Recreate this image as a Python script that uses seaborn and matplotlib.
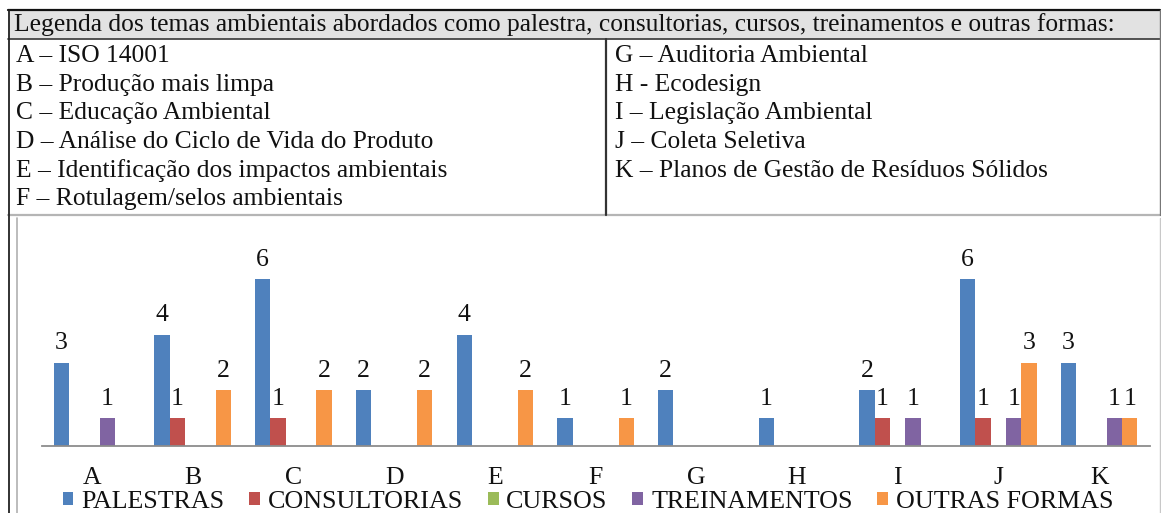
import matplotlib
matplotlib.use("Agg")
import matplotlib.pyplot as plt
import matplotlib.patches as mpatches
from matplotlib.lines import Line2D
import seaborn as sns
import pandas as pd
import numpy as np

# ---------------- data ----------------
categories = ["A", "B", "C", "D", "E", "F", "G", "H", "I", "J", "K"]
series_names = ["PALESTRAS", "CONSULTORIAS", "CURSOS", "TREINAMENTOS", "OUTRAS FORMAS"]
palestras = [3, 4, 6, 2, 4, 1, 2, 1, 2, 6, 3]
consultorias = [0, 1, 1, 0, 0, 0, 0, 0, 1, 1, 0]
cursos = [0, 0, 0, 0, 0, 0, 0, 0, 0, 0, 0]
treinamentos = [1, 0, 0, 0, 0, 0, 0, 0, 1, 1, 1]
outras = [0, 2, 2, 2, 2, 1, 0, 0, 0, 3, 1]
colors = ["#4F81BD", "#C0504D", "#9BBB59", "#8064A2", "#F79646"]

header_text = ("Legenda dos temas ambientais abordados como palestra, consultorias, "
               "cursos, treinamentos e outras formas:")
left_items = ["A \u2013 ISO 14001",
              "B \u2013 Produ\u00e7\u00e3o mais limpa",
              "C \u2013 Educa\u00e7\u00e3o Ambiental",
              "D \u2013 An\u00e1lise do Ciclo de Vida do Produto",
              "E \u2013 Identifica\u00e7\u00e3o dos impactos ambientais",
              "F \u2013 Rotulagem/selos ambientais"]
right_items = ["G \u2013 Auditoria Ambiental",
               "H - Ecodesign",
               "I \u2013 Legisla\u00e7\u00e3o Ambiental",
               "J \u2013 Coleta Seletiva",
               "K \u2013 Planos de Gest\u00e3o de Res\u00edduos S\u00f3lidos"]

values = [palestras, consultorias, cursos, treinamentos, outras]
df = pd.DataFrame({
    "tema": np.repeat([categories], len(series_names), axis=0).ravel(),
    "forma": np.repeat(series_names, len(categories)),
    "valor": np.concatenate(values),
})

# ---------------- figure ----------------
sns.set_theme(style="white")
plt.rcParams["font.family"] = ["Liberation Serif", "DejaVu Serif"]

W, H = 1161, 513
fig = plt.figure(figsize=(W / 100, H / 100), dpi=100)

def fx(x):
    return x / W

def fy(y):
    return 1 - y / H

# table decorations (figure coordinates)
fig.patches.append(mpatches.Rectangle((fx(8), fy(39)), fx(1160) - fx(8), fy(10) - fy(39),
                                      transform=fig.transFigure, facecolor="#e2e2e2",
                                      edgecolor="none", zorder=0))
def hline(y, x0, x1, color, lw):
    fig.lines.append(Line2D([fx(x0), fx(x1)], [fy(y), fy(y)], transform=fig.transFigure,
                            color=color, lw=lw))

def vline(x, y0, y1, color, lw):
    fig.lines.append(Line2D([fx(x), fx(x)], [fy(y0), fy(y1)], transform=fig.transFigure,
                            color=color, lw=lw))

hline(10, 8, 1160, "#111111", 1.6)
hline(39, 8, 1160, "#444444", 1.3)
hline(215, 8, 1160, "#b5b5b5", 1.6)
vline(8.5, 10, 513, "#222222", 1.3)
vline(17, 218, 513, "#b0b0b0", 1.2)
vline(1159.5, 10, 215, "#777777", 1.0)
vline(1159.5, 218, 513, "#c8c8c8", 1.0)
vline(606, 39, 215, "#333333", 1.6)

txt_size = 18.35
fig.text(fx(14), fy(25), header_text, fontsize=txt_size, va="center", ha="left", color="#111111")
row_y = [56, 85, 113, 142, 171, 199]
for t, y in zip(left_items, row_y):
    fig.text(fx(16), fy(y), t, fontsize=txt_size, va="center", ha="left", color="#111111")
for t, y in zip(right_items, row_y):
    fig.text(fx(615), fy(y), t, fontsize=txt_size, va="center", ha="left", color="#111111")

# chart axes
ax_left, ax_right = 41.6, 1149.5
base_y = 446
unit = 27.8
ymax = 7
ax = fig.add_axes([fx(ax_left), fy(base_y), fx(ax_right) - fx(ax_left), ymax * unit / H])

sns.barplot(data=df, x="tema", y="valor", hue="forma", hue_order=series_names,
            order=categories, palette=colors, width=0.76, saturation=1,
            ax=ax, legend=False, edgecolor="none", linewidth=0)

for container, vals in zip(ax.containers, values):
    labels = [str(v) if v > 0 else "" for v in vals]
    ax.bar_label(container, labels=labels, padding=6, fontsize=18.5, color="#111111")

ax.set_xlim(-0.5, len(categories) - 0.5)
ax.set_ylim(0, ymax)
ax.set_xlabel("")
ax.set_ylabel("")
ax.set_yticks([])
for s in ["top", "right", "left"]:
    ax.spines[s].set_visible(False)
ax.spines["bottom"].set_color("#8c8c8c")
ax.spines["bottom"].set_linewidth(1.3)
ax.set_xticks(range(len(categories)))
ax.set_xticklabels(categories, fontsize=18.5, color="#111111")
ax.tick_params(axis="x", which="major", length=0, pad=15)
ax.set_xticks(np.arange(-0.5, len(categories), 1.0), minor=True)
ax.tick_params(axis="x", which="minor", length=6, width=1.2, color="#8c8c8c", direction="out")
ax.patch.set_alpha(0)

handles = [mpatches.Patch(facecolor=c, edgecolor="none") for c in colors]
fig.legend(handles, series_names, loc="center", bbox_to_anchor=(fx(588), fy(502)),
           ncol=5, frameon=False, fontsize=18.7, handlelength=0.42, handleheight=0.42,
           handletextpad=0.3, columnspacing=0.95, borderpad=0, labelcolor="#111111")

fig.savefig("out.png", dpi=100)
